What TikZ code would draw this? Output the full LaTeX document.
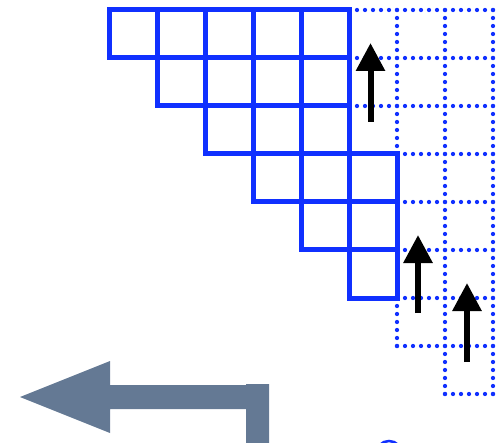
\documentclass[tikz,border=0pt]{standalone}
\usetikzlibrary{arrows.meta}
\definecolor{gridblue}{HTML}{1030FF}
\definecolor{slate}{HTML}{647994}
\tikzset{
  solidcell/.style={draw=gridblue, line width=5pt, line join=miter},
  dotline/.style={draw=gridblue, line width=4.3pt, line cap=round, dash pattern=on 0pt off 8pt},
  uparrow/.style={draw=black, line width=6pt, -{Triangle[width=28pt,length=28pt]}},
  bigarrow/.style={fill=slate, draw=none}
}
\begin{document}
\begin{tikzpicture}[x=1pt,y=-1pt]
\useasboundingbox (0,0) rectangle (497,443);
\clip (0,0) rectangle (497,443);
% dotted grid
\foreach \y in {10,58,106} \draw[dotline] (349,\y) -- (493,\y);
\foreach \y in {154,202,250,298,346} \draw[dotline] (397,\y) -- (493,\y);
\draw[dotline] (445,394) -- (493,394);
\draw[dotline] (397,10) -- (397,154);
\draw[dotline] (397,298) -- (397,346);
\draw[dotline] (445,10) -- (445,394);
\draw[dotline] (493,10) -- (493,394);
% solid staircase
\foreach \r/\a/\b in {0/0/4,1/1/4,2/2/4,3/3/5,4/4/5,5/5/5}{
  \foreach \c in {\a,...,\b}{
    \draw[solidcell] ({109+48*\c},{10+48*\r}) rectangle ({157+48*\c},{58+48*\r});
  }
}
% black arrows
\coordinate (a1s) at (370.5,122); \coordinate (a1e) at (370.5,43);
\coordinate (a2s) at (418,313);   \coordinate (a2e) at (418,235);
\coordinate (a3s) at (467,362);   \coordinate (a3e) at (467,283);
\draw[uparrow] (a1s) -- (a1e);
\draw[uparrow] (a2s) -- (a2e);
\draw[uparrow] (a3s) -- (a3e);
% big slate arrow
\fill[bigarrow] (20,397) -- (110,361) -- (110,385) -- (246,385) -- (246,384) -- (269,384) -- (269,450) -- (246,450) -- (246,409) -- (110,409) -- (110,433) -- cycle;
% partial blue circle at bottom
\draw[gridblue, line width=2.5pt] (389,454) circle (13);
\end{tikzpicture}
\end{document}
